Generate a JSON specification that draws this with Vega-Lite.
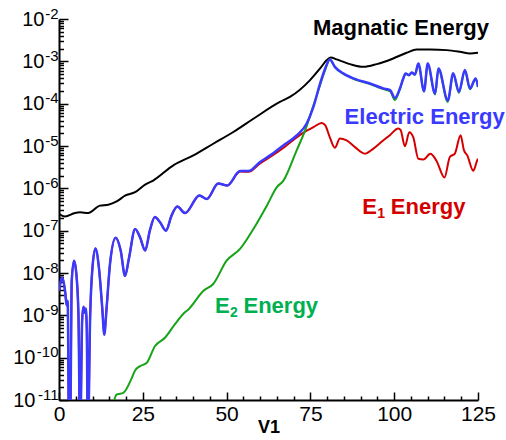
{
  "$schema": "https://vega.github.io/schema/vega-lite/v6.json",
  "width": 419,
  "height": 381,
  "autosize": {"type": "none"},
  "padding": {"left": 59, "top": 19, "right": 28, "bottom": 40},
  "background": "white",
  "config": {"view": {"stroke": null}, "font": "Liberation Sans"},
  "datasets": {
    "curves": [
      {"s": "Magnatic", "v": 0, "e": 2.5e-7},
      {"s": "Magnatic", "v": 1.8, "e": 2.15e-7},
      {"s": "Magnatic", "v": 4.8, "e": 2.62e-7},
      {"s": "Magnatic", "v": 6.3, "e": 2.71e-7},
      {"s": "Magnatic", "v": 8.7, "e": 2.62e-7},
      {"s": "Magnatic", "v": 12.2, "e": 3.9e-7},
      {"s": "Magnatic", "v": 14.7, "e": 4.1e-7},
      {"s": "Magnatic", "v": 17.2, "e": 4.9e-7},
      {"s": "Magnatic", "v": 19.7, "e": 6.7e-7},
      {"s": "Magnatic", "v": 22.7, "e": 8.1e-7},
      {"s": "Magnatic", "v": 25.7, "e": 1.23e-6},
      {"s": "Magnatic", "v": 28.1, "e": 1.53e-6},
      {"s": "Magnatic", "v": 34.1, "e": 3.5e-6},
      {"s": "Magnatic", "v": 40.1, "e": 6.0e-6},
      {"s": "Magnatic", "v": 46.0, "e": 1.13e-5},
      {"s": "Magnatic", "v": 52.0, "e": 2.14e-5},
      {"s": "Magnatic", "v": 58.0, "e": 4.4e-5},
      {"s": "Magnatic", "v": 65.9, "e": 1.1e-4},
      {"s": "Magnatic", "v": 68.9, "e": 1.44e-4},
      {"s": "Magnatic", "v": 74.9, "e": 3.6e-4},
      {"s": "Magnatic", "v": 77.9, "e": 6.8e-4},
      {"s": "Magnatic", "v": 79.9, "e": 1.07e-3},
      {"s": "Magnatic", "v": 81.1, "e": 1.24e-3},
      {"s": "Magnatic", "v": 82.8, "e": 1.11e-3},
      {"s": "Magnatic", "v": 86.8, "e": 8.6e-4},
      {"s": "Magnatic", "v": 90.8, "e": 7.4e-4},
      {"s": "Magnatic", "v": 94.8, "e": 8.6e-4},
      {"s": "Magnatic", "v": 99.7, "e": 1.17e-3},
      {"s": "Magnatic", "v": 103.7, "e": 1.59e-3},
      {"s": "Magnatic", "v": 106.7, "e": 1.91e-3},
      {"s": "Magnatic", "v": 110.7, "e": 1.91e-3},
      {"s": "Magnatic", "v": 115.7, "e": 1.84e-3},
      {"s": "Magnatic", "v": 119.6, "e": 1.68e-3},
      {"s": "Magnatic", "v": 122.6, "e": 1.54e-3},
      {"s": "Magnatic", "v": 125, "e": 1.59e-3},

      {"s": "Electric", "v": 0, "e": 3.8e-9},
      {"s": "Electric", "v": 1.0, "e": 7.8e-9},
      {"s": "Electric", "v": 1.8, "e": 3.8e-9},
      {"s": "Electric", "v": 2.3, "e": 1.7e-9},
      {"s": "Electric", "v": 2.6, "e": 2.2e-9},
      {"s": "Electric", "v": 3.0, "e": 1e-12},
      {"s": "Electric", "v": 3.3, "e": 1e-12},
      {"s": "Electric", "v": 3.8, "e": 6.6e-9},
      {"s": "Electric", "v": 4.5, "e": 1.95e-8},
      {"s": "Electric", "v": 5.1, "e": 1.1e-8},
      {"s": "Electric", "v": 5.8, "e": 1.07e-9},
      {"s": "Electric", "v": 6.3, "e": 1e-12},
      {"s": "Electric", "v": 6.9, "e": 7.4e-10},
      {"s": "Electric", "v": 7.3, "e": 1.6e-9},
      {"s": "Electric", "v": 7.7, "e": 1.15e-9},
      {"s": "Electric", "v": 8.0, "e": 1.45e-9},
      {"s": "Electric", "v": 8.3, "e": 4.3e-10},
      {"s": "Electric", "v": 8.6, "e": 1e-12},
      {"s": "Electric", "v": 9.3, "e": 1e-9},
      {"s": "Electric", "v": 10.0, "e": 1.4e-8},
      {"s": "Electric", "v": 10.9, "e": 3.8e-8},
      {"s": "Electric", "v": 11.9, "e": 1.35e-8},
      {"s": "Electric", "v": 12.9, "e": 1.5e-9},
      {"s": "Electric", "v": 13.5, "e": 3.5e-10},
      {"s": "Electric", "v": 14.2, "e": 1.5e-9},
      {"s": "Electric", "v": 15.2, "e": 1.6e-8},
      {"s": "Electric", "v": 16.9, "e": 6.8e-8},
      {"s": "Electric", "v": 18.4, "e": 3.4e-8},
      {"s": "Electric", "v": 19.7, "e": 8.5e-9},
      {"s": "Electric", "v": 20.9, "e": 2.3e-8},
      {"s": "Electric", "v": 22.7, "e": 1.1e-7},
      {"s": "Electric", "v": 24.2, "e": 6.9e-8},
      {"s": "Electric", "v": 25.7, "e": 3.4e-8},
      {"s": "Electric", "v": 27.1, "e": 1.0e-7},
      {"s": "Electric", "v": 28.6, "e": 2.1e-7},
      {"s": "Electric", "v": 30.1, "e": 1.6e-7},
      {"s": "Electric", "v": 31.9, "e": 1.0e-7},
      {"s": "Electric", "v": 33.6, "e": 2.3e-7},
      {"s": "Electric", "v": 35.3, "e": 3.7e-7},
      {"s": "Electric", "v": 37.6, "e": 2.6e-7},
      {"s": "Electric", "v": 41.9, "e": 6.8e-7},
      {"s": "Electric", "v": 44.1, "e": 5.6e-7},
      {"s": "Electric", "v": 47.5, "e": 1.3e-6},
      {"s": "Electric", "v": 50.2, "e": 1.17e-6},
      {"s": "Electric", "v": 54.0, "e": 2.55e-6},
      {"s": "Electric", "v": 56.5, "e": 2.55e-6},
      {"s": "Electric", "v": 60.0, "e": 4.2e-6},
      {"s": "Electric", "v": 63.0, "e": 6.0e-6},
      {"s": "Electric", "v": 66.9, "e": 1.03e-5},
      {"s": "Electric", "v": 70.9, "e": 1.77e-5},
      {"s": "Electric", "v": 73.9, "e": 3.4e-5},
      {"s": "Electric", "v": 75.9, "e": 8.4e-5},
      {"s": "Electric", "v": 77.9, "e": 3.0e-4},
      {"s": "Electric", "v": 79.4, "e": 6.8e-4},
      {"s": "Electric", "v": 80.8, "e": 1.11e-3},
      {"s": "Electric", "v": 82.3, "e": 7.4e-4},
      {"s": "Electric", "v": 84.8, "e": 5.2e-4},
      {"s": "Electric", "v": 88.8, "e": 3.7e-4},
      {"s": "Electric", "v": 92.8, "e": 3.0e-4},
      {"s": "Electric", "v": 96.7, "e": 2.3e-4},
      {"s": "Electric", "v": 98.8, "e": 2.08e-4},
      {"s": "Electric", "v": 100.2, "e": 1.37e-4},
      {"s": "Electric", "v": 101.7, "e": 2.28e-4},
      {"s": "Electric", "v": 102.7, "e": 3.94e-4},
      {"s": "Electric", "v": 103.4, "e": 5.17e-4},
      {"s": "Electric", "v": 104.4, "e": 4.71e-4},
      {"s": "Electric", "v": 105.2, "e": 5.45e-4},
      {"s": "Electric", "v": 106.2, "e": 4.9e-4},
      {"s": "Electric", "v": 107.2, "e": 8.9e-4},
      {"s": "Electric", "v": 108.9, "e": 1.97e-4},
      {"s": "Electric", "v": 110.0, "e": 8.9e-4},
      {"s": "Electric", "v": 112.2, "e": 1.73e-4},
      {"s": "Electric", "v": 113.2, "e": 6.8e-4},
      {"s": "Electric", "v": 116.0, "e": 1.2e-4},
      {"s": "Electric", "v": 117.6, "e": 5.2e-4},
      {"s": "Electric", "v": 119.3, "e": 1.9e-4},
      {"s": "Electric", "v": 121.1, "e": 6.2e-4},
      {"s": "Electric", "v": 122.6, "e": 2.28e-4},
      {"s": "Electric", "v": 124.3, "e": 3.94e-4},
      {"s": "Electric", "v": 125, "e": 2.5e-4},

      {"s": "E1", "v": 0, "e": 3.8e-9},
      {"s": "E1", "v": 1.0, "e": 7.8e-9},
      {"s": "E1", "v": 1.8, "e": 3.8e-9},
      {"s": "E1", "v": 2.3, "e": 1.7e-9},
      {"s": "E1", "v": 2.6, "e": 2.2e-9},
      {"s": "E1", "v": 3.0, "e": 1e-12},
      {"s": "E1", "v": 3.3, "e": 1e-12},
      {"s": "E1", "v": 3.8, "e": 6.6e-9},
      {"s": "E1", "v": 4.5, "e": 1.95e-8},
      {"s": "E1", "v": 5.1, "e": 1.1e-8},
      {"s": "E1", "v": 5.8, "e": 1.07e-9},
      {"s": "E1", "v": 6.3, "e": 1e-12},
      {"s": "E1", "v": 6.9, "e": 7.4e-10},
      {"s": "E1", "v": 7.3, "e": 1.6e-9},
      {"s": "E1", "v": 7.7, "e": 1.15e-9},
      {"s": "E1", "v": 8.0, "e": 1.45e-9},
      {"s": "E1", "v": 8.3, "e": 4.3e-10},
      {"s": "E1", "v": 8.6, "e": 1e-12},
      {"s": "E1", "v": 9.3, "e": 1e-9},
      {"s": "E1", "v": 10.0, "e": 1.4e-8},
      {"s": "E1", "v": 10.9, "e": 3.8e-8},
      {"s": "E1", "v": 11.9, "e": 1.35e-8},
      {"s": "E1", "v": 12.9, "e": 1.5e-9},
      {"s": "E1", "v": 13.5, "e": 3.5e-10},
      {"s": "E1", "v": 14.2, "e": 1.5e-9},
      {"s": "E1", "v": 15.2, "e": 1.6e-8},
      {"s": "E1", "v": 16.9, "e": 6.8e-8},
      {"s": "E1", "v": 18.4, "e": 3.4e-8},
      {"s": "E1", "v": 19.7, "e": 8.5e-9},
      {"s": "E1", "v": 20.9, "e": 2.3e-8},
      {"s": "E1", "v": 22.7, "e": 1.1e-7},
      {"s": "E1", "v": 24.2, "e": 6.9e-8},
      {"s": "E1", "v": 25.7, "e": 3.4e-8},
      {"s": "E1", "v": 27.1, "e": 1.0e-7},
      {"s": "E1", "v": 28.6, "e": 2.1e-7},
      {"s": "E1", "v": 30.1, "e": 1.6e-7},
      {"s": "E1", "v": 31.9, "e": 1.0e-7},
      {"s": "E1", "v": 33.6, "e": 2.3e-7},
      {"s": "E1", "v": 35.3, "e": 3.7e-7},
      {"s": "E1", "v": 37.6, "e": 2.6e-7},
      {"s": "E1", "v": 41.9, "e": 6.8e-7},
      {"s": "E1", "v": 44.1, "e": 5.6e-7},
      {"s": "E1", "v": 47.5, "e": 1.3e-6},
      {"s": "E1", "v": 50.2, "e": 1.17e-6},
      {"s": "E1", "v": 54.0, "e": 2.5e-6},
      {"s": "E1", "v": 56.5, "e": 2.45e-6},
      {"s": "E1", "v": 60.0, "e": 3.9e-6},
      {"s": "E1", "v": 63.0, "e": 5.5e-6},
      {"s": "E1", "v": 66.9, "e": 9.0e-6},
      {"s": "E1", "v": 70.9, "e": 1.6e-5},
      {"s": "E1", "v": 73.9, "e": 2.3e-5},
      {"s": "E1", "v": 75.9, "e": 2.8e-5},
      {"s": "E1", "v": 78.4, "e": 3.5e-5},
      {"s": "E1", "v": 79.4, "e": 3.1e-5},
      {"s": "E1", "v": 80.8, "e": 1.6e-5},
      {"s": "E1", "v": 82.3, "e": 9.1e-6},
      {"s": "E1", "v": 83.8, "e": 1.5e-5},
      {"s": "E1", "v": 85.8, "e": 1.35e-5},
      {"s": "E1", "v": 88.3, "e": 9.4e-6},
      {"s": "E1", "v": 91.3, "e": 6.6e-6},
      {"s": "E1", "v": 93.8, "e": 8.7e-6},
      {"s": "E1", "v": 96.7, "e": 1.35e-5},
      {"s": "E1", "v": 98.7, "e": 1.8e-5},
      {"s": "E1", "v": 101.2, "e": 2.6e-5},
      {"s": "E1", "v": 101.9, "e": 2.4e-5},
      {"s": "E1", "v": 103.2, "e": 9.8e-6},
      {"s": "E1", "v": 104.5, "e": 2.1e-5},
      {"s": "E1", "v": 105.7, "e": 1.6e-5},
      {"s": "E1", "v": 107.2, "e": 5.0e-6},
      {"s": "E1", "v": 108.7, "e": 4.8e-6},
      {"s": "E1", "v": 110.8, "e": 6.6e-6},
      {"s": "E1", "v": 112.6, "e": 4.5e-6},
      {"s": "E1", "v": 115.0, "e": 1.8e-6},
      {"s": "E1", "v": 116.6, "e": 5.5e-6},
      {"s": "E1", "v": 118.1, "e": 6.6e-6},
      {"s": "E1", "v": 119.8, "e": 1.8e-5},
      {"s": "E1", "v": 120.8, "e": 8.0e-6},
      {"s": "E1", "v": 121.8, "e": 6.0e-6},
      {"s": "E1", "v": 123.6, "e": 2.6e-6},
      {"s": "E1", "v": 124.6, "e": 4.2e-6},
      {"s": "E1", "v": 125, "e": 5.0e-6},

      {"s": "E2", "v": 15.6, "e": 5e-12},
      {"s": "E2", "v": 17.2, "e": 1.35e-11},
      {"s": "E2", "v": 19.2, "e": 1.48e-11},
      {"s": "E2", "v": 21.7, "e": 3.3e-11},
      {"s": "E2", "v": 22.7, "e": 5.0e-11},
      {"s": "E2", "v": 24.2, "e": 6.3e-11},
      {"s": "E2", "v": 26.2, "e": 7.6e-11},
      {"s": "E2", "v": 28.6, "e": 1.86e-10},
      {"s": "E2", "v": 31.6, "e": 2.95e-10},
      {"s": "E2", "v": 34.6, "e": 6.2e-10},
      {"s": "E2", "v": 37.4, "e": 1.15e-9},
      {"s": "E2", "v": 38.6, "e": 1.38e-9},
      {"s": "E2", "v": 43.1, "e": 3.8e-9},
      {"s": "E2", "v": 46.0, "e": 5.5e-9},
      {"s": "E2", "v": 50.0, "e": 1.95e-8},
      {"s": "E2", "v": 54.0, "e": 3.7e-8},
      {"s": "E2", "v": 58.0, "e": 1.1e-7},
      {"s": "E2", "v": 62.0, "e": 3.9e-7},
      {"s": "E2", "v": 65.0, "e": 1.07e-6},
      {"s": "E2", "v": 66.9, "e": 1.5e-6},
      {"s": "E2", "v": 70.9, "e": 7.9e-6},
      {"s": "E2", "v": 73.4, "e": 2.3e-5},
      {"s": "E2", "v": 75.4, "e": 6.9e-5},
      {"s": "E2", "v": 77.4, "e": 2.1e-4},
      {"s": "E2", "v": 79.4, "e": 6.2e-4},
      {"s": "E2", "v": 80.8, "e": 1.11e-3},
      {"s": "E2", "v": 82.3, "e": 7.3e-4},
      {"s": "E2", "v": 84.8, "e": 5.1e-4},
      {"s": "E2", "v": 88.8, "e": 3.6e-4},
      {"s": "E2", "v": 92.8, "e": 2.9e-4},
      {"s": "E2", "v": 96.7, "e": 2.2e-4},
      {"s": "E2", "v": 98.8, "e": 1.95e-4},
      {"s": "E2", "v": 100.2, "e": 1.22e-4},
      {"s": "E2", "v": 101.7, "e": 2.2e-4},
      {"s": "E2", "v": 102.7, "e": 3.9e-4},
      {"s": "E2", "v": 103.4, "e": 5.1e-4},
      {"s": "E2", "v": 104.4, "e": 4.7e-4},
      {"s": "E2", "v": 105.2, "e": 5.4e-4},
      {"s": "E2", "v": 106.2, "e": 4.85e-4},
      {"s": "E2", "v": 107.2, "e": 8.8e-4},
      {"s": "E2", "v": 108.9, "e": 1.9e-4},
      {"s": "E2", "v": 110.0, "e": 8.8e-4},
      {"s": "E2", "v": 112.2, "e": 1.65e-4},
      {"s": "E2", "v": 113.2, "e": 6.7e-4},
      {"s": "E2", "v": 116.0, "e": 1.1e-4},
      {"s": "E2", "v": 117.6, "e": 5.1e-4},
      {"s": "E2", "v": 119.3, "e": 1.8e-4},
      {"s": "E2", "v": 121.1, "e": 6.1e-4},
      {"s": "E2", "v": 122.6, "e": 2.2e-4},
      {"s": "E2", "v": 124.3, "e": 3.9e-4},
      {"s": "E2", "v": 125, "e": 2.45e-4}
    ],
    "labels": [
      {"s": "Magnatic", "head": "", "sub": "", "label": "Magnatic Energy", "v": 102.0, "e": 4.18e-3},
      {"s": "Electric", "head": "", "sub": "", "label": "Electric Energy", "v": 109.1, "e": 3.37e-5},
      {"s": "E1", "head": "E", "sub": "1", "label": "Energy", "v": 90.5, "e": 2.53e-7},
      {"s": "E2", "head": "E", "sub": "2", "label": "Energy", "v": 46.54, "e": 1.16e-9}
    ]
  },
  "encoding": {
    "x": {
      "field": "v",
      "type": "quantitative",
      "scale": {"domain": [0, 125], "nice": false, "zero": false},
      "axis": {
        "values": [0, 5, 10, 15, 20, 25, 30, 35, 40, 45, 50, 55, 60, 65, 70, 75, 80, 85, 90, 95, 100, 105, 110, 115, 120, 125],
        "labelExpr": "datum.value % 25 === 0 ? datum.label : ''",
        "grid": false,
        "domainColor": "black",
        "domainWidth": 2,
        "tickColor": "black",
        "tickWidth": 1.5,
        "tickSize": {"condition": {"test": "datum.value % 25 === 0", "value": -8}, "value": -4},
        "labelFont": "Liberation Sans",
        "labelFontSize": 21,
        "labelColor": "black",
        "labelPadding": 11,
        "labelFlush": false,
        "labelOverlap": false,
        "title": "V1",
        "titleFont": "Liberation Sans",
        "titleFontSize": 18,
        "titleFontWeight": "bold",
        "titleColor": "black",
        "titlePadding": -10
      }
    }
  },
  "resolve": {"axis": {"y": "independent"}},
  "layer": [
    {
      "data": {"name": "curves"},
      "encoding": {
        "y": {
          "field": "e",
          "type": "quantitative",
          "scale": {"type": "log", "domain": [1e-11, 1e-2], "nice": false},
          "axis": {
            "orient": "left",
            "values": [1e-11, 2e-11, 3e-11, 4e-11, 5e-11, 6e-11, 7e-11, 8e-11, 9e-11,
                       1e-10, 2e-10, 3e-10, 4e-10, 5e-10, 6e-10, 7e-10, 8e-10, 9e-10,
                       1e-9, 2e-9, 3e-9, 4e-9, 5e-9, 6e-9, 7e-9, 8e-9, 9e-9,
                       1e-8, 2e-8, 3e-8, 4e-8, 5e-8, 6e-8, 7e-8, 8e-8, 9e-8,
                       1e-7, 2e-7, 3e-7, 4e-7, 5e-7, 6e-7, 7e-7, 8e-7, 9e-7,
                       1e-6, 2e-6, 3e-6, 4e-6, 5e-6, 6e-6, 7e-6, 8e-6, 9e-6,
                       1e-5, 2e-5, 3e-5, 4e-5, 5e-5, 6e-5, 7e-5, 8e-5, 9e-5,
                       1e-4, 2e-4, 3e-4, 4e-4, 5e-4, 6e-4, 7e-4, 8e-4, 9e-4,
                       1e-3, 2e-3, 3e-3, 4e-3, 5e-3, 6e-3, 7e-3, 8e-3, 9e-3, 1e-2],
            "labelExpr": "abs(log(datum.value)/LN10 - round(log(datum.value)/LN10)) < 0.01 ? '10' : ''",
            "grid": false,
            "domainColor": "black",
            "domainWidth": 2,
            "tickColor": "black",
            "tickWidth": 1.5,
            "tickSize": {"condition": {"test": "abs(log(datum.value)/LN10 - round(log(datum.value)/LN10)) < 0.01", "value": -9}, "value": -4.5},
            "labelFont": "Liberation Sans",
            "labelFontSize": 20,
            "labelColor": "black",
            "labelPadding": {"condition": {"test": "datum.value < 5e-10", "value": 33}, "value": 24},
            "labelFlush": false,
            "labelOverlap": false,
            "title": null
          }
        }
      },
      "layer": [
        {
          "transform": [{"filter": "datum.s === 'Magnatic'"}],
          "mark": {"type": "line", "color": "black", "strokeWidth": 2, "interpolate": "monotone", "clip": true}
        },
        {
          "transform": [{"filter": "datum.s === 'E1'"}],
          "mark": {"type": "line", "color": "#d40000", "strokeWidth": 2, "interpolate": "monotone", "clip": true}
        },
        {
          "transform": [{"filter": "datum.s === 'E2'"}],
          "mark": {"type": "line", "color": "#17a317", "strokeWidth": 2, "interpolate": "monotone", "clip": true}
        },
        {
          "transform": [{"filter": "datum.s === 'Electric'"}],
          "mark": {"type": "line", "color": "#3a3aff", "strokeWidth": 2.5, "interpolate": "monotone", "clip": true}
        }
      ]
    },
    {
      "data": {"name": "labels"},
      "encoding": {
        "y": {
          "field": "e",
          "type": "quantitative",
          "scale": {"type": "log", "domain": [1e-11, 1e-2], "nice": false},
          "axis": {
            "orient": "left",
            "values": [1e-11, 1e-10, 1e-9, 1e-8, 1e-7, 1e-6, 1e-5, 1e-4, 1e-3, 1e-2],
            "labelExpr": "'-' + (-round(log(datum.value)/LN10))",
            "grid": false,
            "domain": false,
            "ticks": false,
            "tickSize": 0,
            "labelFont": "Liberation Sans",
            "labelFontSize": 15,
            "labelColor": "black",
            "labelPadding": 1,
            "labelOffset": -6,
            "labelFlush": false,
            "labelOverlap": false,
            "title": null
          }
        }
      },
      "layer": [
        {
          "transform": [{"filter": "datum.s === 'Magnatic'"}],
          "mark": {"type": "text", "color": "black", "font": "Liberation Sans", "fontSize": 22, "fontWeight": "bold", "align": "center", "baseline": "alphabetic"},
          "encoding": {"text": {"field": "label"}}
        },
        {
          "transform": [{"filter": "datum.s === 'Electric'"}],
          "mark": {"type": "text", "color": "#3a3aff", "font": "Liberation Sans", "fontSize": 22, "fontWeight": "bold", "align": "center", "baseline": "alphabetic"},
          "encoding": {"text": {"field": "label"}}
        },
        {
          "transform": [{"filter": "datum.s === 'E1'"}],
          "mark": {"type": "text", "color": "#d40000", "font": "Liberation Sans", "fontSize": 22, "fontWeight": "bold", "align": "left", "baseline": "alphabetic"},
          "encoding": {"text": {"field": "head"}}
        },
        {
          "transform": [{"filter": "datum.s === 'E1'"}],
          "mark": {"type": "text", "color": "#d40000", "font": "Liberation Sans", "fontSize": 14, "fontWeight": "bold", "align": "left", "baseline": "alphabetic", "dx": 15, "dy": 4}
          ,"encoding": {"text": {"field": "sub"}}
        },
        {
          "transform": [{"filter": "datum.s === 'E1'"}],
          "mark": {"type": "text", "color": "#d40000", "font": "Liberation Sans", "fontSize": 22, "fontWeight": "bold", "align": "left", "baseline": "alphabetic", "dx": 28.5},
          "encoding": {"text": {"field": "label"}}
        },
        {
          "transform": [{"filter": "datum.s === 'E2'"}],
          "mark": {"type": "text", "color": "#00b050", "font": "Liberation Sans", "fontSize": 22, "fontWeight": "bold", "align": "left", "baseline": "alphabetic"},
          "encoding": {"text": {"field": "head"}}
        },
        {
          "transform": [{"filter": "datum.s === 'E2'"}],
          "mark": {"type": "text", "color": "#00b050", "font": "Liberation Sans", "fontSize": 14, "fontWeight": "bold", "align": "left", "baseline": "alphabetic", "dx": 15, "dy": 4},
          "encoding": {"text": {"field": "sub"}}
        },
        {
          "transform": [{"filter": "datum.s === 'E2'"}],
          "mark": {"type": "text", "color": "#00b050", "font": "Liberation Sans", "fontSize": 22, "fontWeight": "bold", "align": "left", "baseline": "alphabetic", "dx": 28.5},
          "encoding": {"text": {"field": "label"}}
        }
      ]
    }
  ]
}
